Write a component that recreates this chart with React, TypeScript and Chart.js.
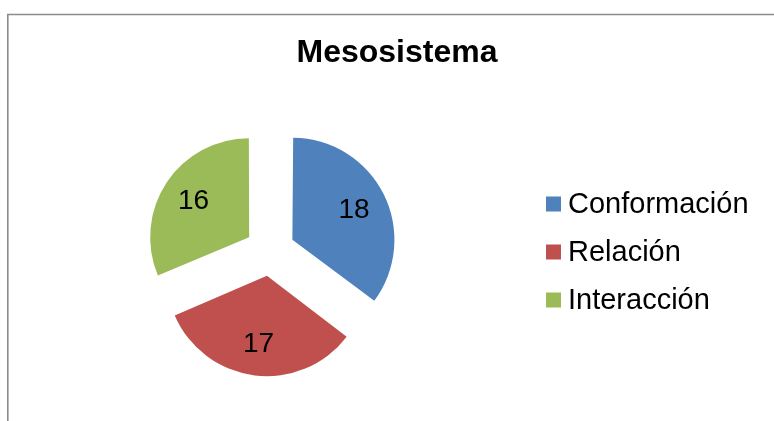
import React, { useEffect, useRef } from "react";
import { Chart, registerables } from "chart.js";

Chart.register(...registerables);

const titleText = "Mesosistema";
const categories = ["Conformación", "Relación", "Interacción"];
const values = [18, 17, 16];
const colors = ["#4F81BD", "#C0504D", "#9BBB59"];

const FONT = "'Liberation Sans', Arial, sans-serif";
const EXPLODE = 25; // pixel shift of each slice
const BASE_R = 97;

// Chart.js ArcElement translates each slice by offset/4
const OFFSET = EXPLODE * 4;

const decorPlugin = {
  id: "decor",
  beforeDraw(chart: any) {
    const ctx = chart.ctx;
    ctx.save();
    ctx.fillStyle = "#ffffff";
    ctx.fillRect(0, 0, chart.width, chart.height);
    ctx.strokeStyle = "#8c8c8c";
    ctx.lineWidth = 1.6;
    ctx.beginPath();
    ctx.moveTo(chart.width, 14.5);
    ctx.lineTo(7.8, 14.5);
    ctx.lineTo(7.8, chart.height);
    ctx.stroke();
    ctx.fillStyle = "#000000";
    ctx.font = `bold 32px ${FONT}`;
    ctx.textAlign = "center";
    ctx.textBaseline = "alphabetic";
    ctx.fillText(titleText, 397, 62);
    ctx.font = `29px ${FONT}`;
    ctx.textAlign = "left";
    ctx.textBaseline = "middle";
    categories.forEach((c, i) => {
      const cy = 204 + i * 48;
      ctx.fillStyle = colors[i];
      ctx.fillRect(546, cy - 7.5, 15, 15);
      ctx.fillStyle = "#000000";
      ctx.fillText(c, 568, cy + 1);
    });
    ctx.restore();
  },
  afterDatasetsDraw(chart: any) {
    const ctx = chart.ctx;
    const meta = chart.getDatasetMeta(0);
    ctx.save();
    ctx.fillStyle = "#000000";
    ctx.font = `28px ${FONT}`;
    ctx.textAlign = "center";
    ctx.textBaseline = "middle";
    meta.data.forEach((arc: any, i: number) => {
      const p = arc.getProps(["x", "y", "startAngle", "endAngle", "outerRadius", "circumference"], true);
      const mid = (p.startAngle + p.endAngle) / 2;
      const shift = (arc.options.offset || 0) / 4;
      const fix = 1 - Math.sin(Math.min(Math.PI, p.circumference));
      const r = p.outerRadius + shift * fix;
      const d = shift + r * 0.675;
      ctx.fillText(String(values[i]), p.x + Math.cos(mid) * d, p.y + Math.sin(mid) * d + 1);
    });
    ctx.restore();
  },
};

export default function App() {
  const ref = useRef<HTMLCanvasElement>(null);
  useEffect(() => {
    if (!ref.current) return;
    const chart = new Chart(ref.current, {
      type: "pie",
      data: {
        labels: categories,
        datasets: [
          {
            data: values,
            backgroundColor: colors,
            borderWidth: 0,
            offset: OFFSET,
            radius: BASE_R,
          },
        ],
      },
      options: {
        responsive: false,
        animation: false,
        layout: { padding: { left: 20, right: 254, top: 100, bottom: 19 } },
        plugins: {
          legend: { display: false },
          title: { display: false },
          tooltip: { enabled: false },
        },
      } as any,
      plugins: [decorPlugin],
    });
    return () => chart.destroy();
  }, []);
  return (
    <div style={{ position: "absolute", left: 0, top: 0, width: 774, height: 421, background: "#fff" }}>
      <canvas ref={ref} width={774} height={421} style={{ display: "block" }} />
    </div>
  );
}
